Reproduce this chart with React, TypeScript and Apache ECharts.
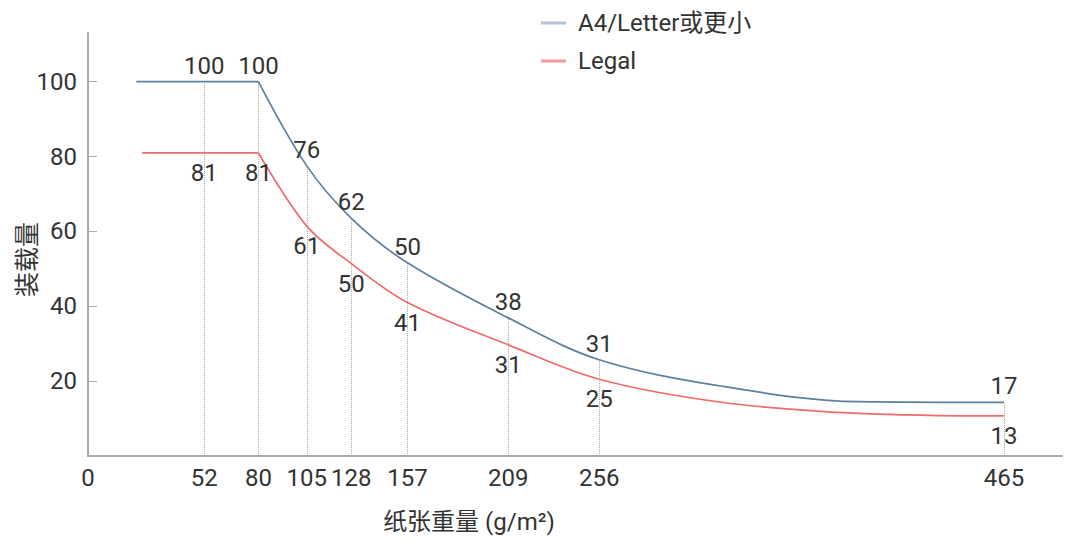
import React, { useEffect, useRef } from "react";
import * as echarts from "echarts";

// Tick weights (g/m²) that carry a label and a guide line
const weights = [52, 80, 105, 128, 157, 209, 256, 465];
// Labelled capacities
const a4Labels = [100, 100, 76, 62, 50, 38, 31, 17];
const legalLabels = [81, 81, 61, 50, 41, 31, 25, 13];

// Curves as drawn in the picture
const a4CurveX = [17, 52, 80, 105, 128, 157, 209, 256, 320, 390, 465];
const a4CurveY = [100, 100, 100, 77.5, 63.5, 51.6, 36.9, 25.7, 18.6, 14.5, 14.3];
const legalCurveX = [20, 52, 80, 105, 128, 157, 209, 256, 320, 390, 465];
const legalCurveY = [81, 81, 81, 61.4, 51.4, 41, 29.7, 20.5, 14.3, 11.4, 10.7];

// weight where the flat part ends and the curve begins
const kneeWeight = 80;

const xTickValues = [-8, 52, 80, 105, 128, 157, 209, 256, 465];
const xTickLabels = ["0", "52", "80", "105", "128", "157", "209", "256", "465"];
const yTickValues = [20, 40, 60, 80, 100];

const seriesNames = ["A4/Letter或更小", "Legal"];
const FONT = 'Roboto, "Noto Sans CJK SC", sans-serif';

export default function App() {
  const ref = useRef<HTMLDivElement>(null);
  useEffect(() => {
    if (!ref.current) return;
    const chart = echarts.init(ref.current, undefined, { renderer: "svg" });

    const build = (
      xs: number[],
      ys: number[],
      labels: number[],
      pos: string,
      keep: (x: number) => boolean,
      showLabel: (x: number) => boolean
    ) =>
      xs
        .map((x, i) => ({ x, y: ys[i] }))
        .filter((p) => keep(p.x))
        .map((p) => {
          const k = weights.indexOf(p.x);
          return {
            value: [p.x, p.y],
            label: {
              show: k >= 0 && showLabel(p.x),
              position: pos,
              formatter: k >= 0 ? String(labels[k]) : "",
            },
          };
        });

    const guideData = weights.map((w) => {
      const i = a4CurveX.indexOf(w);
      return [{ coord: [w, 0] }, { coord: [w, a4CurveY[i]] }];
    });

    const labelStyle = { fontSize: 24, color: "#333", fontFamily: FONT };
    const colors = ["#5f7f9e", "#f26a6a"];

    const mk = (
      idx: number,
      xs: number[],
      ys: number[],
      labels: number[],
      pos: string,
      dist: number
    ) => {
      const common = {
        name: seriesNames[idx],
        type: "line",
        symbol: "circle",
        symbolSize: 0,
        showSymbol: true,
        color: colors[idx],
        lineStyle: { color: colors[idx], width: 1.7 },
        label: { ...labelStyle, distance: dist },
        z: 3,
      };
      return [
        {
          ...common,
          smooth: false,
          data: build(xs, ys, labels, pos, (x) => x <= kneeWeight, () => true),
        },
        {
          ...common,
          smooth: 0.35,
          data: build(xs, ys, labels, pos, (x) => x >= kneeWeight, (x) => x > kneeWeight),
        },
      ];
    };

    const a4Series = mk(0, a4CurveX, a4CurveY, a4Labels, "top", 4);
    (a4Series[0] as any).markLine = {
      silent: true,
      symbol: "none",
      label: { show: false },
      lineStyle: { type: "dotted", color: "#aaa", width: 1 },
      data: guideData,
      z: 1,
    };
    const legalSeries = mk(1, legalCurveX, legalCurveY, legalLabels, "bottom", 8);

    chart.setOption({
      animation: false,
      textStyle: { fontFamily: FONT },
      grid: {
        left: 88,
        right: 10,
        top: 33,
        bottom: 84,
        containLabel: false,
        outerBoundsMode: "none",
      },
      legend: {
        orient: "vertical",
        left: 536,
        top: 6,
        icon: "rect",
        itemWidth: 25,
        itemHeight: 3,
        itemGap: 14,
        textStyle: { fontSize: 24, color: "#333", fontFamily: FONT, padding: [0, 0, 0, 7] },
        data: [
          { name: seriesNames[0], itemStyle: { color: "#b3c5d6" } },
          { name: seriesNames[1], itemStyle: { color: "#f59a9a" } },
        ],
      },
      xAxis: {
        type: "value",
        min: -8,
        max: 495,
        name: "纸张重量 (g/m²)",
        nameLocation: "middle",
        nameGap: 54,
        nameMoveOverlap: false,
        nameTextStyle: { fontSize: 24, color: "#333", fontFamily: FONT, padding: [0, 212, 0, 0] },
        axisLine: { show: true, onZero: false, lineStyle: { color: "#aaa", width: 2 } },
        axisTick: { show: false },
        splitLine: { show: false },
        axisLabel: {
          customValues: xTickValues,
          fontSize: 24,
          color: "#333",
          margin: 10,
          formatter: (v: number) => {
            const i = xTickValues.indexOf(v);
            return i >= 0 ? xTickLabels[i] : "";
          },
        },
      },
      yAxis: {
        type: "value",
        min: 0,
        max: 113,
        name: "装载量",
        nameLocation: "middle",
        nameRotate: 90,
        nameGap: 48,
        nameMoveOverlap: false,
        nameTextStyle: { fontSize: 25, color: "#333", fontFamily: FONT, padding: [0, 30, 0, 0] },
        axisLine: { show: true, onZero: false, lineStyle: { color: "#aaa", width: 2 } },
        axisTick: { show: true, inside: true, length: 9, customValues: yTickValues, lineStyle: { color: "#aaa" } },
        splitLine: { show: false },
        axisLabel: { customValues: yTickValues, fontSize: 24, color: "#333", margin: 11 },
      },
      series: [...a4Series, ...legalSeries],
    });
    return () => chart.dispose();
  }, []);
  return (
    <div
      ref={ref}
      style={{ position: "absolute", left: 0, top: 0, width: 1072, height: 540 }}
    />
  );
}
